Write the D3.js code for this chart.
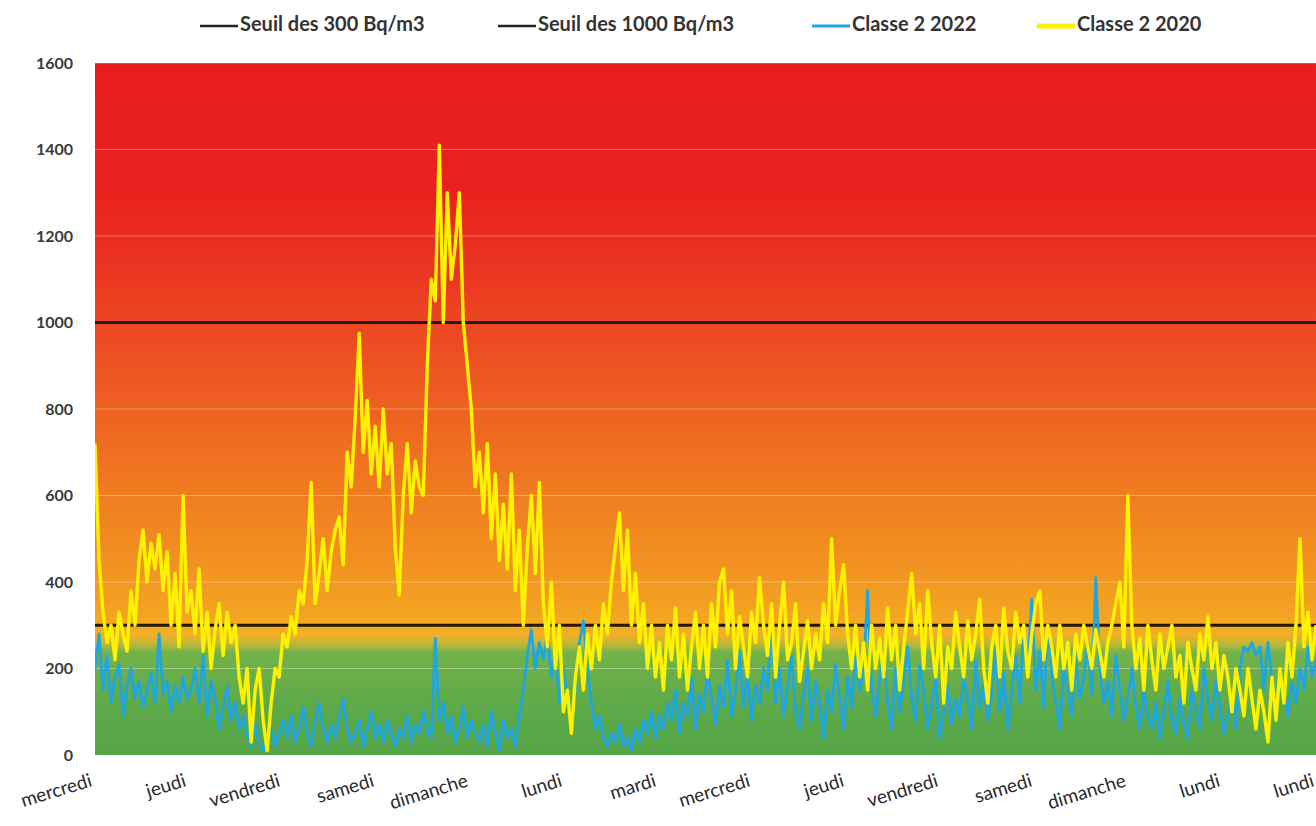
<!DOCTYPE html>
<html>
<head>
<meta charset="utf-8">
<script src="https://cdn.jsdelivr.net/npm/d3@7"></script>
<style>
  html, body { margin: 0; padding: 0; background: #fff; }
  svg { display: block; }
</style>
</head>
<body>
<svg id="chart" width="1316" height="826"></svg>
<script>
// ---- Data (hourly readings, Bq/m3) ----
const dayLabels = ["mercredi","jeudi","vendredi","samedi","dimanche","lundi","mardi",
                   "mercredi","jeudi","vendredi","samedi","dimanche","lundi","lundi"];
const yTicks = [0,200,400,600,800,1000,1200,1400,1600];
const thresholds = [300, 1000];
const seriesNames = ["Seuil des 300 Bq/m3","Seuil des 1000 Bq/m3","Classe 2 2022","Classe 2 2020"];

const classe2020 = [
  720,450,330,260,300,220,330,280,240,380,300,450,520,400,490,430,510,380,470,300,420,250,600,330,
  380,280,430,240,330,200,290,350,230,330,260,300,180,120,200,30,150,200,80,10,120,200,180,280,
  250,320,280,380,350,450,630,350,420,500,380,470,520,550,440,700,620,780,975,700,820,650,760,620,
  800,650,720,480,370,600,720,560,680,620,600,900,1100,1050,1410,1000,1300,1100,1180,1300,1000,900,800,620,
  700,560,720,500,650,450,580,430,650,380,520,300,480,600,420,630,350,250,400,200,300,100,150,50,
  180,250,150,280,200,300,220,350,280,400,480,560,380,520,300,420,260,350,200,300,180,260,150,300,
  220,340,180,280,150,250,330,200,300,180,350,250,400,430,280,380,200,320,250,180,330,260,410,300,
  230,350,180,300,400,220,260,350,170,240,310,200,280,220,350,260,500,300,380,440,280,200,300,180,
  260,150,300,200,270,180,340,220,300,150,250,330,420,280,350,200,380,260,180,300,120,250,200,330,
  250,180,310,220,280,360,200,120,250,300,180,340,240,200,330,260,300,180,280,350,380,220,300,250,
  180,300,200,260,150,280,220,300,250,200,290,240,180,260,300,350,400,250,600,300,200,270,150,300,
  220,150,280,200,250,300,180,230,120,260,200,150,280,220,320,200,260,150,230,180,100,200,150,90,
  200,130,60,150,100,30,180,80,200,120,260,180,300,500,250,330,220,300
];
const classe2022 = [
  200,280,150,230,120,180,210,90,160,200,130,170,110,150,190,120,280,140,170,100,160,120,180,130,
  150,200,120,230,90,170,130,60,110,160,80,120,60,90,50,20,70,30,10,40,60,20,50,80,
  40,90,30,60,110,50,20,80,120,60,30,70,40,90,130,60,30,50,80,20,60,100,40,70,
  30,80,50,20,60,40,90,30,70,50,100,60,40,270,80,120,50,90,30,60,110,40,80,50,
  30,70,20,100,50,10,80,40,60,20,90,150,230,290,200,260,220,280,180,240,120,200,140,90,
  150,260,310,200,120,60,90,40,20,50,30,70,20,40,10,60,30,80,50,100,40,90,60,120,
  80,150,50,120,90,180,60,140,100,200,130,70,160,110,220,90,150,240,110,190,80,160,120,200,
  150,330,120,200,90,160,230,100,60,140,200,80,170,120,40,150,100,210,130,60,180,110,230,150,
  200,380,150,90,180,240,120,60,200,100,170,250,130,80,210,150,60,120,180,40,100,160,70,130,
  90,180,130,60,220,110,170,80,140,250,100,190,60,150,230,120,300,200,360,150,240,110,300,180,
  120,60,200,150,90,230,130,180,260,140,410,200,120,170,90,230,150,80,130,200,110,60,150,90,
  60,120,40,100,170,80,50,130,70,40,150,100,60,200,130,80,170,110,50,90,140,60,200,250,
  240,260,230,250,150,260,180,110,200,140,90,170,120,200,150,250,180,220
];

// ---- Layout ----
const svg = d3.select("#chart");
const plot = { left: 95, right: 1316, top: 63, bottom: 755 };
const FONT = "Lato, 'Open Sans', sans-serif";

const x = d3.scaleLinear().domain([0, classe2020.length - 1]).range([plot.left, plot.right]);
const xDay = d3.scaleLinear().domain([0, dayLabels.length - 1]).range([plot.left - 2, plot.right - 1]);
const y = d3.scaleLinear().domain([0, 1600]).range([plot.bottom, plot.top]);

// background gradient
const defs = svg.append("defs");
const grad = defs.append("linearGradient")
  .attr("id", "bg").attr("gradientUnits", "userSpaceOnUse")
  .attr("x1", 0).attr("x2", 0).attr("y1", y(1600)).attr("y2", y(0));
const stops = [
  [1600, "#e81c1f"], [1300, "#e8221f"], [1150, "#ea3220"], [1000, "#ec4621"],
  [800, "#ee6121"], [600, "#f07d20"], [420, "#f29521"], [320, "#f3a522"],
  [275, "#f0b027"], [255, "#b9b83a"], [238, "#74b24a"], [120, "#5eaa49"], [0, "#55a548"]
];
stops.forEach(([v, c]) => {
  grad.append("stop").attr("offset", (y(v) - y(1600)) / (y(0) - y(1600))).attr("stop-color", c);
});

const clip = defs.append("clipPath").attr("id", "clip");
clip.append("rect").attr("x", plot.left).attr("y", y(1600) - 5)
  .attr("width", plot.right - plot.left).attr("height", y(0) - y(1600) + 10);

svg.append("rect")
  .attr("x", plot.left).attr("y", y(1600))
  .attr("width", plot.right - plot.left).attr("height", y(0) - y(1600))
  .attr("fill", "url(#bg)");

// gridlines
svg.append("g").selectAll("line")
  .data(yTicks.filter(d => d > 0))
  .join("line")
  .attr("x1", plot.left).attr("x2", plot.right)
  .attr("y1", d => y(d)).attr("y2", d => y(d))
  .attr("stroke", "#ffffff").attr("stroke-opacity", 0.35).attr("stroke-width", 1.2);

// y axis labels
const yAxis = d3.axisLeft(y).tickValues(yTicks).tickFormat(d3.format("d")).tickSize(0).tickPadding(0);
const gy = svg.append("g").attr("transform", `translate(${plot.left - 22},0)`).call(yAxis);
gy.select(".domain").remove();
gy.selectAll("text")
  .attr("font-family", FONT)
  .attr("font-weight", "bold").attr("font-size", 16).attr("fill", "#3a3a3a");

// threshold lines
svg.append("g").selectAll("line")
  .data(thresholds).join("line")
  .attr("x1", plot.left).attr("x2", plot.right)
  .attr("y1", d => y(d)).attr("y2", d => y(d))
  .attr("stroke", "#23170f").attr("stroke-width", 3);

// series
const line = d3.line().x((d, i) => x(i)).y(d => y(d));
const g = svg.append("g").attr("clip-path", "url(#clip)");
g.append("path").datum(classe2022)
  .attr("d", line).attr("fill", "none")
  .attr("stroke", "#1ea6e2").attr("stroke-width", 2.8).attr("stroke-linejoin", "round");
g.append("path").datum(classe2020)
  .attr("d", line).attr("fill", "none")
  .attr("stroke", "#fff200").attr("stroke-width", 3.4).attr("stroke-linejoin", "round");

// x labels (one per day), right end anchored at the day tick
svg.append("g").selectAll("text")
  .data(dayLabels.map((lab, k) => ({ lab, k })))
  .join("text")
  .attr("transform", d => `translate(${xDay(d.k)},${786}) rotate(-17)`)
  .attr("text-anchor", "end")
  .attr("font-family", FONT)
  .attr("font-size", 19).attr("fill", "#2a2a2a")
  .text(d => d.lab);

// legend
const legendItems = [
  { name: seriesNames[0], color: "#222", w: 2.6, lx: 200 },
  { name: seriesNames[1], color: "#222", w: 2.6, lx: 498 },
  { name: seriesNames[2], color: "#1ea6e2", w: 2.8, lx: 812 },
  { name: seriesNames[3], color: "#fff200", w: 5, lx: 1037 }
];
const lg = svg.append("g");
legendItems.forEach(it => {
  const len = 38;
  lg.append("line").attr("x1", it.lx).attr("x2", it.lx + len)
    .attr("y1", 26).attr("y2", 26).attr("stroke", it.color).attr("stroke-width", it.w);
  lg.append("text").attr("x", it.lx + len + 2).attr("y", 26)
    .attr("dominant-baseline", "middle")
    .attr("font-family", FONT)
    .attr("font-weight", "bold").attr("font-size", 20).attr("fill", "#333")
    .text(it.name);
});
</script>
</body>
</html>
